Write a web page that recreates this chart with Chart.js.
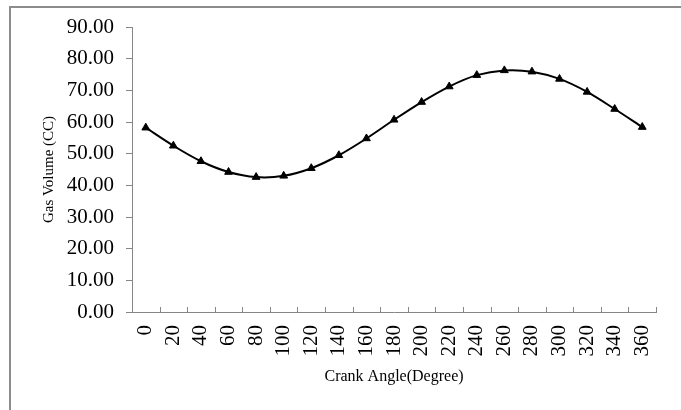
<!DOCTYPE html>
<html>
<head>
<meta charset="utf-8">
<script src="https://cdn.jsdelivr.net/npm/chart.js@4/dist/chart.umd.min.js"></script>
<style>
    body { margin: 0; background: #fff; }
    #wrap { position: relative; width: 681px; height: 410px; overflow: hidden; }
    #frame { position: absolute; left: 9px; top: 6px; width: 700px; height: 420px;
             border-top: 2px solid #8c8c8c; border-left: 2px solid #8c8c8c; }
    canvas { position: absolute; left: 0; top: 0; }
</style>
</head>
<body>
<div id="wrap">
    <div id="frame"></div>
    <canvas id="grafico" width="681" height="410"></canvas>
</div>
<script>
const angulos = ['0', '20', '40', '60', '80', '100', '120', '140', '160', '180',
    '200', '220', '240', '260', '280', '300', '320', '340', '360'];
const volumeGas = [58.2, 52.5, 47.6, 44.2, 42.6, 43.0, 45.4, 49.5, 54.8, 60.7,
    66.3, 71.2, 74.8, 76.3, 75.9, 73.6, 69.5, 64.1, 58.4];
const yMin = 0;
const yMax = 90;
const yPasso = 10;

const cinza = '#868686';
const fonte = 'Liberation Serif';

// marcas do eixo x para dentro, entre as categorias
const marcasX = {
    id: 'marcasX',
    afterDraw(chart) {
        const xs = chart.scales.x;
        const ctx = chart.ctx;
        ctx.save();
        ctx.strokeStyle = cinza;
        ctx.lineWidth = 1;
        for (let i = 0; i <= angulos.length; i++) {
            let x = Math.round(xs.getPixelForValue(i - 0.5)) + 0.5;
            ctx.beginPath();
            ctx.moveTo(x, xs.top);
            ctx.lineTo(x, xs.top - 5);
            ctx.stroke();
        }
        ctx.restore();
    }
};

let config = {
    type: 'line',
    data: {
        labels: angulos,
        datasets: [{
            label: 'Gas Volume',
            data: volumeGas,
            borderColor: '#000',
            backgroundColor: '#000',
            borderWidth: 2,
            tension: 0.3,
            pointStyle: 'triangle',
            pointRadius: 4.5,
            pointBorderWidth: 1
        }]
    },
    options: {
        responsive: false,
        animation: false,
        layout: {padding: {top: 27, right: 20, left: 0, bottom: 0}},
        plugins: {
            legend: {display: false},
            tooltip: {enabled: false}
        },
        scales: {
            x: {
                offset: true,
                afterFit: (s) => { s.height = 98; },
                grid: {display: false, drawTicks: false},
                border: {display: true, color: cinza, width: 1},
                ticks: {
                    color: '#000',
                    font: {family: fonte, size: 21},
                    minRotation: 90,
                    maxRotation: 90,
                    autoSkip: false,
                    padding: 13
                },
                title: {
                    display: true,
                    text: 'Crank Angle(Degree)',
                    color: '#000',
                    font: {family: fonte, size: 16},
                    padding: {top: 0, bottom: 24}
                }
            },
            y: {
                min: yMin,
                max: yMax,
                afterFit: (s) => { s.width = 132; },
                grid: {drawOnChartArea: false, drawTicks: true, tickLength: 6, color: cinza},
                border: {display: true, color: cinza, width: 1},
                ticks: {
                    stepSize: yPasso,
                    color: '#000',
                    font: {family: fonte, size: 21},
                    padding: 12,
                    callback: (v) => v.toFixed(2)
                },
                title: {
                    display: true,
                    text: 'Gas Volume (CC)',
                    color: '#000',
                    font: {family: fonte, size: 15},
                    padding: {top: 40, bottom: 0}
                }
            }
        }
    },
    plugins: [marcasX]
};

let ctx = new Chart(document.getElementById('grafico'), config);
</script>
</body>
</html>
